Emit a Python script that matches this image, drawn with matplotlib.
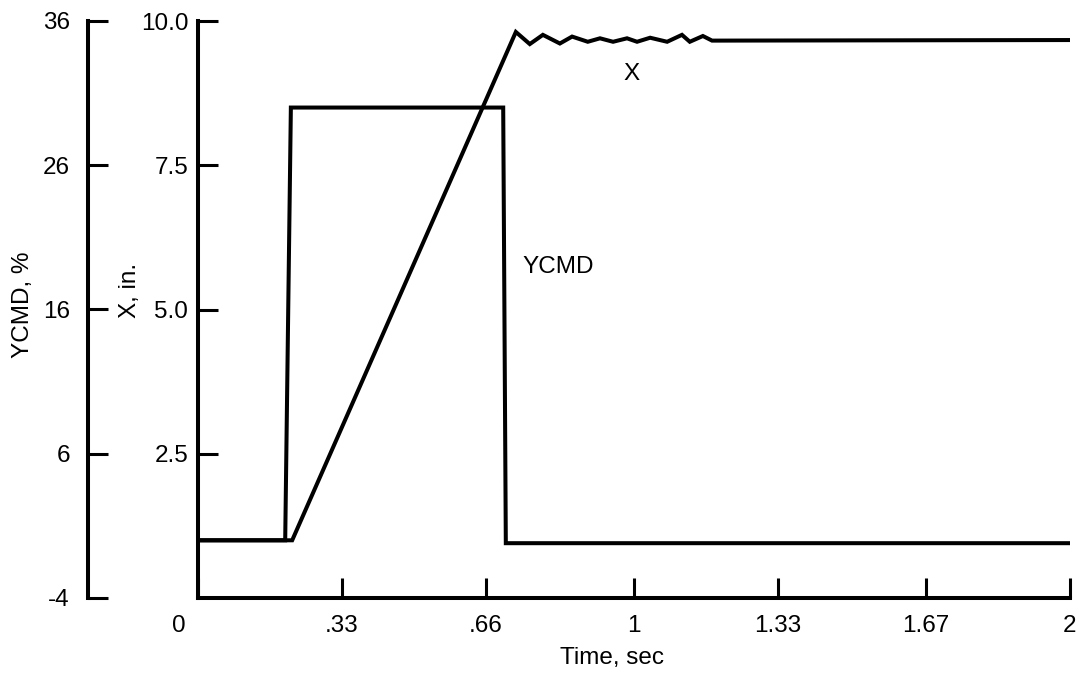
import numpy as np
import matplotlib
matplotlib.use('Agg')
import matplotlib.pyplot as plt
from matplotlib.ticker import FixedLocator
from matplotlib.transforms import ScaledTranslation

plt.rcParams['font.family'] = ['Liberation Sans', 'DejaVu Sans']
plt.rcParams['axes.unicode_minus'] = False

# X response (in.) vs time (sec)
x_time = [0, 0.216, 0.729, 0.761, 0.791, 0.830, 0.858, 0.894, 0.922, 0.952,
          0.984, 1.007, 1.037, 1.076, 1.110, 1.128, 1.158, 1.179, 2.0]
x_in = [1.0, 1.0, 9.81, 9.60, 9.76, 9.61, 9.73, 9.64, 9.70, 9.64,
        9.70, 9.64, 9.71, 9.64, 9.76, 9.64, 9.74, 9.66, 9.67]

# YCMD command (%) vs time (sec)
ycmd_time = [0, 0.200, 0.213, 0.700, 0.706, 2.0]
ycmd_pct = [0, 0, 30, 30, -0.2, -0.2]

time_ticks = [0, 0.33, 0.66, 1, 1.33, 1.67, 2]
time_labels = ['0', '.33', '.66', '1', '1.33', '1.67', '2']
x_ticks = [2.5, 5.0, 7.5, 10.0]
x_labels = ['2.5', '5.0', '7.5', '10.0']
ycmd_ticks = [-4, 6, 16, 26, 36]

fs = 17.5
lw = 2.9

fig = plt.figure(figsize=(10.85, 6.75), dpi=100)
ax = fig.add_axes([198 / 1085, 1 - 598 / 675, (1070 - 198) / 1085, (598 - 21) / 675])

ax.plot(x_time, x_in, color='black', lw=lw, solid_joinstyle='miter')
ax.set_xlim(0, 2)
ax.set_ylim(0, 10)
for s in ['top', 'right']:
    ax.spines[s].set_visible(False)
for s in ['left', 'bottom']:
    ax.spines[s].set_linewidth(lw)

ax.set_xticks(time_ticks)
ax.set_xticklabels(time_labels)
ax.set_yticks(x_ticks)
ax.set_yticklabels(x_labels)
ax.tick_params(axis='both', direction='in', length=14.5, width=2.2, labelsize=fs)
ax.tick_params(axis='x', pad=12)
ax.tick_params(axis='y', pad=7)
# shift the "0" label left of the corner
lab0 = ax.get_xticklabels()[0]
lab0.set_transform(lab0.get_transform() + ScaledTranslation(-0.19, 0, fig.dpi_scale_trans))

ax.set_xlabel('Time, sec', fontsize=fs)
ax.xaxis.set_label_coords((612 - 198) / 872, -0.085)
ax.set_ylabel('X, in.', fontsize=fs)
ax.yaxis.set_label_coords(-(198 - 141) / 872, (598 - 290) / 577)

ax.text(0.995, 9.08, 'X', fontsize=fs, ha='center', va='center')
ax.text(0.743, 5.74, 'YCMD', fontsize=fs, ha='left', va='center')

# outer YCMD axis
ax2 = ax.twinx()
ax2.plot(ycmd_time, ycmd_pct, color='black', lw=lw, solid_joinstyle='miter')
ax2.set_ylim(-4, 36)
ax2.yaxis.set_ticks_position('left')
ax2.yaxis.set_label_position('left')
for s in ['top', 'right', 'bottom']:
    ax2.spines[s].set_visible(False)
ax2.spines['left'].set_visible(True)
ax2.spines['left'].set_position(('outward', 110 * 72 / 100))
ax2.spines['left'].set_linewidth(lw)
ax2.set_yticks(ycmd_ticks)
ax2.yaxis.set_minor_locator(FixedLocator([-4]))
ax2.tick_params(axis='y', which='major', direction='in', length=14.5, width=2.2,
                labelsize=fs, pad=13)
ax2.tick_params(axis='y', which='minor', direction='in', length=28, width=2.2)
ax2.set_ylabel('YCMD, %', fontsize=fs)
ax2.yaxis.set_label_coords(-(198 - 34) / 872, (598 - 305) / 577)

fig.savefig('out.png', dpi=100)
